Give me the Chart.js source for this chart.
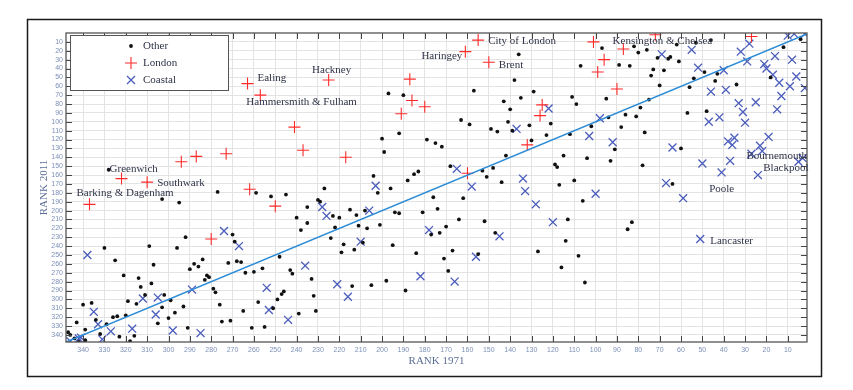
<!DOCTYPE html>
<html>
<head>
<meta charset="utf-8">
<script src="https://cdn.jsdelivr.net/npm/chart.js@4.4.1/dist/chart.umd.min.js"></script>
<style>
html, body { margin: 0; padding: 0; background: #fff; }
#wrap { width: 853px; height: 390px; }
</style>
</head>
<body>
<div id="wrap"><canvas id="c" width="853" height="390"></canvas></div>
<script>
// ranks (1971 rank on x, 2011 rank on y)
const otherRank1971 = [328,303,277,259,252,245,295,240,238,235, 235,292,270,269,330,309,296,325,307,290,
  288,286,284,272,268,266,264,260,256,243, 242,248,321,314,308,313,311,282,281,283,
  279,278,276,275,271,265,261,258,255,251, 249,247,246,239,340,336,343,339,334,332,
  329,326,324,323,320,319,318,316,315,305, 303,302,300,299,297,293,291,347,346,344,
  342,339,227,230,229,224,223,222,220,218, 219,215,213,212,211,208,209,207,214,232,
  233,231,205,202,201,198,196,195,194,192, 189,184,181,176,174,177,173,170,171,167,
  169,164,162,155,152,147,127,144,117,113, 114,116,108,110,106,105,83,85,64,136,
  138,157,129,135,143,140,141,139,131,121, 123,130,163,159,149,146,142,197,190,200,
  192,199,179,175,172,204,188,185,183,168, 153,151,148,119,118,111,109,112,115,107,
  97,82,80,76,71,66,65,61,62,53, 46,73,74,68,70,89,84,95,102,94,
  88,86,81,79,75,77,91,104,93,78, 60,57,48,56,54,49,44,43,34,18,
  12,4];
const otherRank2011 = [154,187,179,180,184,182,191,208,222,214, 196,230,227,235,242,240,242,256,261,266,
  260,263,255,259,257,258,270,269,265,267, 271,252,273,276,282,286,295,273,275,278,
  288,292,306,325,324,313,332,303,331,310, 300,294,291,316,306,304,326,334,323,339,
  328,320,319,342,318,302,347,341,305,327, 309,295,321,301,315,308,332,337,340,344,
  348,346,175,188,190,231,206,219,208,238, 247,199,244,205,217,200,236,220,285,296,
  277,313,284,180,216,279,175,239,202,203, 290,248,202,185,198,227,225,218,254,245,
  268,210,186,249,212,225,246,168,171,210, 234,264,251,166,189,281,213,221,170,24,
  53,65,66,73,77,86,100,110,104,102, 115,121,98,103,108,111,138,68,70,119,
  113,134,120,124,128,161,166,159,156,150, 155,162,152,148,151,72,80,114,138,37,
  17,15,22,19,28,29,27,32,13,11, 8,41,48,42,59,36,37,74,105,95,
  106,92,94,84,75,112,131,141,144,149, 130,90,88,61,51,44,54,46,58,50,
  16,7];

const londonNames = ['Ealing', 'Hammersmith & Fulham', 'Hackney', 'Haringey', 'City of London', 'Brent',
  'Kensington & Chelsea', 'Greenwich', 'Southwark', 'Barking & Dagenham'];
const londonRank1971 = [263,257,225,161,155,150,72,322,310,337, 241,237,273,287,294,262,250,280,217,187,
  186,180,191,125,126,132,160,101,87,96, 99,90,27];
const londonRank2011 = [57,70,53,21,8,33,2,164,168,193, 106,132,136,139,145,176,195,232,140,52,
  76,83,91,81,93,126,158,10,18,30, 44,63,4];

const coastalNames = ['Bournemouth', 'Blackpool', 'Poole', 'Lancaster'];
const coastalRank1971 = [27,5,59,51, 338,274,267,335,333,331,342,346,341,327,
  317,312,306,305,298,289,285,254,253,244, 236,228,226,203,206,210,221,216,178,182,
  166,158,156,145,133,128,120,122,137,165, 134,69,55,52,40,32,28,29,21,20,
  16,17,14,8,6,9,2,13,15,10, 7,2,46,39,33,25,31,30,47,42,
  19,38,35,36,23,22,37,41,50, 24,3,64,92,103,98,67,100];
const coastalRank2011 = [136,145,186,232, 250,223,240,314,328,345,344,347,343,336,
  333,299,317,298,335,289,338,287,312,323, 262,196,206,172,200,235,283,297,222,274,
  280,173,252,229,178,193,213,85,108,153, 164,24,19,39,42,21,12,32,35,40,
  26,47,56,30,49,60,62,71,86,3, 1,1,66,64,79,78,89,101,100,95,
  117,122,118,126,127,133,144,157,147, 160,141,129,123,116,96,169,181];

const fitRank1971 = [348, 1];
const fitRank2011 = [348, 1];

const rankTicks = [10,20,30,40,50,60,70,80,90,100,110,120,130,140,150,160,170,
  180,190,200,210,220,230,240,250,260,270,280,290,300,310,320,330,340];

function pts(xs, ys) { return xs.map((v, i) => ({x: v, y: ys[i]})); }

const SERIF = '"Liberation Serif", "Times New Roman", serif';
const RED = '#ff2b2b', BLUE = '#4a5cbc', TEXT = '#2f3347';

// where each name sits next to its marker (pixel offset, alignment)
const londonLabelPos = [
  [10, -6, 'left'], [-14, 7, 'left'], [3, -10, 'center'], [-3, 4, 'right'], [10, 1, 'left'],
  [10, 3, 'left'], [7, 6, 'center'], [-12, -10, 'left'], [10, 1, 'left'], [-13, -11, 'left']
];
const coastalLabelPos = [[-5, 2, 'left'], [10, 6, 'right'], [26, -9, 'left'], [10, 2, 'left']];

const decor = {
  id: 'decor',
  beforeDraw(chart) {
    const ctx = chart.ctx;
    ctx.save();
    ctx.fillStyle = '#fff';
    ctx.fillRect(0, 0, chart.width, chart.height);
    ctx.strokeStyle = '#1a1a1a';
    ctx.lineWidth = 1.5;
    ctx.strokeRect(27.5, 19.5, 794, 357);
    ctx.restore();
  },
  afterDatasetsDraw(chart) {
    const {ctx, chartArea: a, scales: {x, y}} = chart;
    ctx.save();

    // inward tick marks on all four sides
    ctx.strokeStyle = '#444';
    ctx.lineWidth = 1;
    ctx.beginPath();
    rankTicks.forEach(v => {
      const px = Math.round(x.getPixelForValue(v)) + 0.5;
      ctx.moveTo(px, a.top); ctx.lineTo(px, a.top + 6);
      ctx.moveTo(px, a.bottom); ctx.lineTo(px, a.bottom - 6);
      const py = Math.round(y.getPixelForValue(v)) + 0.5;
      ctx.moveTo(a.left, py); ctx.lineTo(a.left + 6, py);
      ctx.moveTo(a.right, py); ctx.lineTo(a.right - 6, py);
    });
    ctx.stroke();

    ctx.strokeStyle = '#555';
    ctx.lineWidth = 1.3;
    ctx.strokeRect(a.left, a.top, a.right - a.left, a.bottom - a.top);

    // district names
    ctx.font = '11px ' + SERIF;
    ctx.fillStyle = TEXT;
    ctx.textBaseline = 'middle';
    londonNames.forEach((name, i) => {
      const p = londonLabelPos[i];
      ctx.textAlign = p[2];
      ctx.fillText(name, x.getPixelForValue(londonRank1971[i]) + p[0], y.getPixelForValue(londonRank2011[i]) + p[1]);
    });
    coastalNames.forEach((name, i) => {
      const p = coastalLabelPos[i];
      ctx.textAlign = p[2];
      ctx.fillText(name, x.getPixelForValue(coastalRank1971[i]) + p[0], y.getPixelForValue(coastalRank2011[i]) + p[1]);
    });

    // legend box
    const lx = a.left + 4, ly = a.top + 2;
    ctx.fillStyle = '#fff';
    ctx.fillRect(lx, ly, 158, 55);
    ctx.strokeStyle = '#555';
    ctx.lineWidth = 1;
    ctx.strokeRect(lx + 0.5, ly + 0.5, 158, 55);
    const mx = lx + 61;
    ctx.fillStyle = '#111';
    ctx.beginPath(); ctx.arc(mx, ly + 11, 1.9, 0, Math.PI * 2); ctx.fill();
    ctx.strokeStyle = RED; ctx.lineWidth = 1.1;
    ctx.beginPath();
    ctx.moveTo(mx - 6, ly + 28); ctx.lineTo(mx + 6, ly + 28);
    ctx.moveTo(mx, ly + 22); ctx.lineTo(mx, ly + 34);
    ctx.stroke();
    ctx.strokeStyle = BLUE; ctx.lineWidth = 1.3;
    ctx.beginPath();
    ctx.moveTo(mx - 4, ly + 41); ctx.lineTo(mx + 4, ly + 49);
    ctx.moveTo(mx + 4, ly + 41); ctx.lineTo(mx - 4, ly + 49);
    ctx.stroke();
    ctx.fillStyle = TEXT;
    ctx.textAlign = 'left';
    ctx.fillText('Other', mx + 12, ly + 11);
    ctx.fillText('London', mx + 12, ly + 28);
    ctx.fillText('Coastal', mx + 12, ly + 45);

    // axis titles
    ctx.fillStyle = '#5d6f99';
    ctx.textAlign = 'center';
    ctx.fillText('RANK 1971', (a.left + a.right) / 2, 361);
    ctx.translate(44, (a.top + a.bottom) / 2);
    ctx.rotate(-Math.PI / 2);
    ctx.fillText('RANK 2011', 0, 0);
    ctx.restore();
  }
};

const tickFont = {family: '"Liberation Sans", Arial, sans-serif', size: 7};

new Chart(document.getElementById('c'), {
  type: 'scatter',
  data: {
    datasets: [
      {
        label: 'fit',
        data: pts(fitRank1971, fitRank2011),
        showLine: true,
        borderColor: '#2b8bd6',
        borderWidth: 1.6,
        pointRadius: 0
      },
      {
        label: 'Other',
        data: pts(otherRank1971, otherRank2011),
        pointStyle: 'circle',
        pointRadius: 1.9,
        backgroundColor: '#111',
        borderWidth: 0
      },
      {
        label: 'London',
        data: pts(londonRank1971, londonRank2011),
        pointStyle: 'cross',
        pointRadius: 6,
        borderColor: RED,
        borderWidth: 1.1
      },
      {
        label: 'Coastal',
        data: pts(coastalRank1971, coastalRank2011),
        pointStyle: 'crossRot',
        pointRadius: 5.6,
        borderColor: BLUE,
        borderWidth: 1.3
      }
    ]
  },
  options: {
    responsive: false,
    animation: false,
    devicePixelRatio: 1,
    layout: {padding: {top: 33, right: 46, left: 0, bottom: 0}},
    plugins: {legend: {display: false}, tooltip: {enabled: false}},
    scales: {
      x: {
        type: 'linear', min: 1, max: 348, reverse: true,
        afterFit(s) { s.height = 48; },
        afterBuildTicks(s) { s.ticks = rankTicks.map(v => ({value: v})); },
        grid: {color: '#e3e3e3', drawTicks: false},
        border: {display: false},
        ticks: {autoSkip: false, maxRotation: 0, padding: 4, font: tickFont, color: '#7d90b8'}
      },
      y: {
        type: 'linear', min: 0, max: 348, reverse: true,
        afterFit(s) { s.width = 66; },
        afterBuildTicks(s) { s.ticks = rankTicks.map(v => ({value: v})); },
        grid: {color: '#e3e3e3', drawTicks: false},
        border: {display: false},
        ticks: {autoSkip: false, padding: 3, font: tickFont, color: '#7d90b8'}
      }
    }
  },
  plugins: [decor]
});
</script>
</body>
</html>
